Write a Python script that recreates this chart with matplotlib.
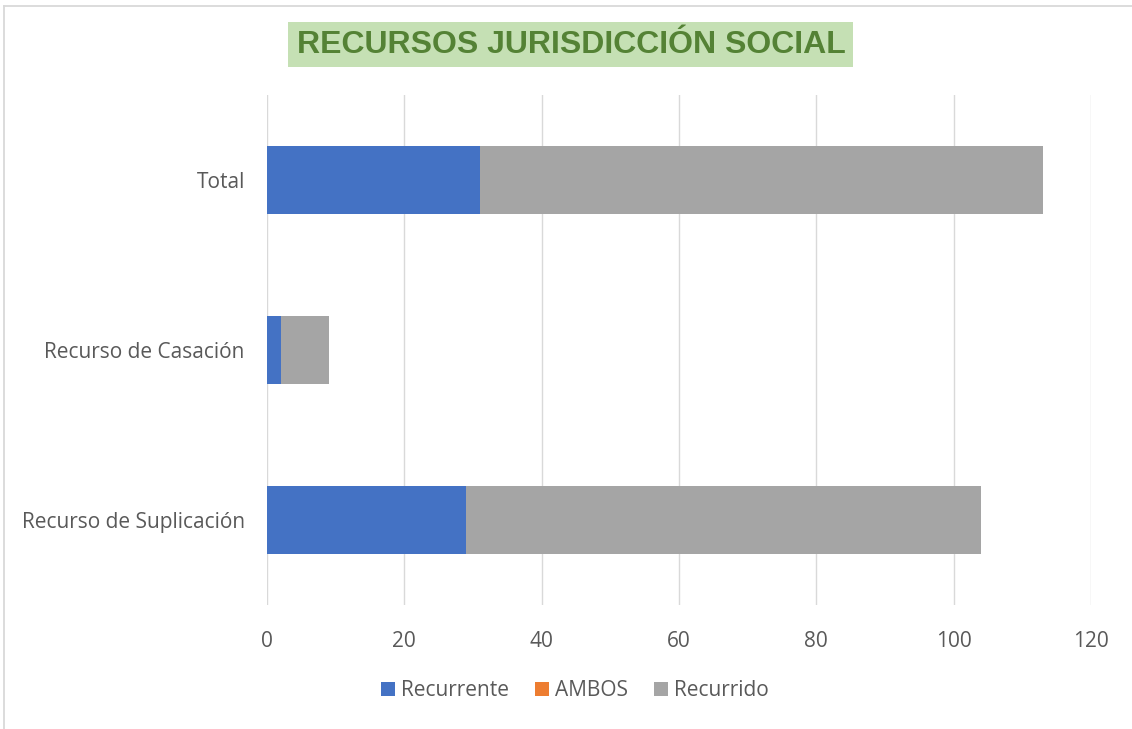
import matplotlib
matplotlib.use("Agg")
import matplotlib.pyplot as plt
from matplotlib.patches import Rectangle
from matplotlib.lines import Line2D

categories = ["Recurso de Suplicación", "Recurso de Casación", "Total"]
recurrente = [29, 2, 31]
ambos = [0, 0, 0]
recurrido = [75, 7, 82]
series_names = ["Recurrente", "AMBOS", "Recurrido"]
colors = ["#4472C4", "#ED7D31", "#A5A5A5"]
xticks = [0, 20, 40, 60, 80, 100, 120]

plt.rcParams['font.family'] = ['Open Sans', 'DejaVu Sans']

W, H = 1132, 729
fig = plt.figure(figsize=(W/100, H/100), dpi=100)
ax = fig.add_axes([267/W, 1-605/H, (1091-267)/W, 510/H])

y = list(range(len(categories)))
left = [0]*len(categories)
for name, vals, c in zip(series_names, [recurrente, ambos, recurrido], colors):
    ax.barh(y, vals, left=left, height=0.4, color=c, label=name, zorder=3)
    left = [l + v for l, v in zip(left, vals)]

ax.set_xlim(0, 120)
ax.set_ylim(-0.5, 2.5)
ax.set_xticks(xticks)
ax.set_yticks(y)
ax.set_yticklabels(categories)
ax.grid(axis='x', color='#D9D9D9', linewidth=1, zorder=0)
for s in ax.spines.values():
    s.set_visible(False)
ax.tick_params(axis='both', length=0, colors='#595959', labelsize=15)
ax.tick_params(axis='y', pad=16)
ax.tick_params(axis='x', pad=19)

# title with green background box
fig.patches.append(Rectangle((288/W, 1-67/H), (853-288)/W, 45/H, transform=fig.transFigure,
                             facecolor='#C5E0B4', edgecolor='none', zorder=1))
fig.text(571/W, 1-45/H, "RECURSOS JURISDICCIÓN SOCIAL", ha='center', va='center',
         fontsize=23, fontweight='bold', color='#548235', family='Liberation Sans', zorder=2)

leg = fig.legend(loc='center', bbox_to_anchor=(575/W, 1-691/H), ncol=3, frameon=False,
                 fontsize=15, handlelength=0.65, handleheight=0.65, handletextpad=0.3,
                 columnspacing=1.25)
for t in leg.get_texts():
    t.set_color('#595959')

# chart-area border (left and top only visible)
fig.lines.append(Line2D([3.5/W, 3.5/W], [0, 1-6/H], transform=fig.transFigure, color='#D9D9D9', linewidth=1.3))
fig.lines.append(Line2D([3.5/W, 1], [1-6/H, 1-6/H], transform=fig.transFigure, color='#D9D9D9', linewidth=1.3))

fig.savefig("out.png", dpi=100)
